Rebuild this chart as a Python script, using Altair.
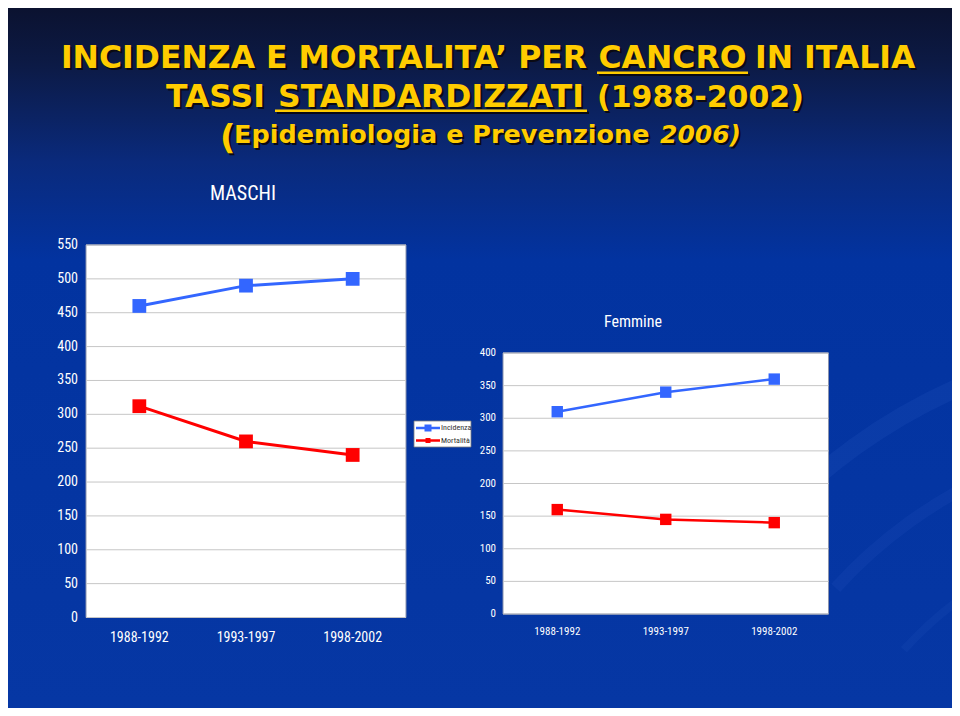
import altair as alt
import pandas as pd

# ---------------- data ----------------
periods = ["1988-1992", "1993-1997", "1998-2002"]
series_names = ["Incidenza", "Mortalità"]
series_colors = ["#3366FF", "#FF0000"]

maschi_incidenza = [460, 490, 500]
maschi_mortalita = [312, 260, 240]
femmine_incidenza = [310, 340, 360]
femmine_mortalita = [160, 145, 140]

maschi_ticks = [0, 50, 100, 150, 200, 250, 300, 350, 400, 450, 500, 550]
femmine_ticks = [0, 50, 100, 150, 200, 250, 300, 350, 400]

# ---------------- style ----------------
W, H = 944, 700
NARROW = "Liberation Sans Narrow, Arial Narrow, Roboto Condensed, DejaVu Sans Condensed, sans-serif"
HEAVY = "DejaVu Sans"
YELLOW = "#FFCC00"
SHADOW = "#0a0a14"

one = pd.DataFrame({"k": [0]})


def long_df(inc, mort):
    rows = []
    for p, a, b in zip(periods, inc, mort):
        rows.append({"period": p, "series": series_names[0], "value": a})
        rows.append({"period": p, "series": series_names[1], "value": b})
    return pd.DataFrame(rows)


color = alt.Color("series:N", scale=alt.Scale(domain=series_names, range=series_colors), legend=None)

# ---------------- background ----------------
bg = alt.Chart(one).mark_rect(
    color=alt.Gradient(
        gradient="linear",
        stops=[
            alt.GradientStop(offset=0.0, color="#0b1230"),
            alt.GradientStop(offset=0.08, color="#0c1a45"),
            alt.GradientStop(offset=0.22, color="#0a2a7c"),
            alt.GradientStop(offset=0.36, color="#0233a0"),
            alt.GradientStop(offset=1.0, color="#0637a4"),
        ],
        x1=0, x2=0, y1=0, y2=1,
    )
).encode(x=alt.value(0), x2=alt.value(W), y=alt.value(0), y2=alt.value(H))

# faint decorative swooshes (lower right of the slide)
swooshes = [
    alt.Chart(one).mark_arc(color="#6f9bff", opacity=op).encode(
        x=alt.value(cx), y=alt.value(cy), radius=alt.value(r1), radius2=alt.value(r2),
        theta=alt.value(t1), theta2=alt.value(t2))
    for cx, cy, r1, r2, t1, t2, op in [
        (1180, 900, 560, 578, 5.45, 6.28, 0.07),
        (1180, 900, 470, 482, 5.45, 6.28, 0.06),
        (1180, 900, 380, 388, 5.45, 6.28, 0.05),
    ]
]


# ---------------- title ----------------
def ytext(txt, x, y, align, size, italic=False):
    style = "italic" if italic else "normal"
    sh = alt.Chart(one).mark_text(
        text=txt, font=HEAVY, fontWeight="bold", fontStyle=style, fontSize=size,
        color=SHADOW, align=align, baseline="alphabetic", dx=2, dy=2,
    ).encode(x=alt.value(x), y=alt.value(y))
    fg = alt.Chart(one).mark_text(
        text=txt, font=HEAVY, fontWeight="bold", fontStyle=style, fontSize=size,
        color=YELLOW, align=align, baseline="alphabetic",
    ).encode(x=alt.value(x), y=alt.value(y))
    return [sh, fg]


def uline(xa, xb, y):
    sh = alt.Chart(one).mark_rect(color=SHADOW).encode(
        x=alt.value(xa + 2), x2=alt.value(xb + 2), y=alt.value(y + 2), y2=alt.value(y + 4.5))
    fg = alt.Chart(one).mark_rect(color=YELLOW).encode(
        x=alt.value(xa), x2=alt.value(xb), y=alt.value(y), y2=alt.value(y + 2.5))
    return [sh, fg]


title_layers = []
title_layers += ytext("INCIDENZA E MORTALITA’ PER", 579, 60, "right", 31.5)
title_layers += ytext("CANCRO", 664.5, 60, "center", 31.5)
title_layers += ytext("IN ITALIA", 747, 60, "left", 31.5)
title_layers += uline(589, 740, 63.5)
title_layers += ytext("TASSI", 257, 99, "right", 31.5)
title_layers += ytext("STANDARDIZZATI", 423, 99, "center", 31.5)
title_layers += ytext("(1988-2002)", 589, 99, "left", 30)
title_layers += uline(267, 579, 101.5)
title_layers += ytext("(", 212, 141, "left", 34)
title_layers += ytext("Epidemiologia e Prevenzione", 226, 135, "left", 25.5)
title_layers += ytext("2006)", 652, 135, "left", 25, italic=True)


# ---------------- panels ----------------
def panel(inc, mort, ticks, ymax, x0, x1, ytop, ybot, label_x, xlab_y,
          tick_fs, xlab_fs, size, sw, title, title_x, title_y, title_fs):
    df = long_df(inc, mort)
    tdf = pd.DataFrame({"v": ticks})
    pdf = pd.DataFrame({"period": periods})
    ys = alt.Scale(domain=[0, ymax], range=[ybot, ytop], nice=False, zero=True)
    xs = alt.Scale(type="point", domain=periods, range=[x0, x1], padding=0.5)

    frame = alt.Chart(one).mark_rect(fill="white", stroke="#8a93ae", strokeWidth=1).encode(
        x=alt.value(x0), x2=alt.value(x1), y=alt.value(ytop), y2=alt.value(ybot))
    grid = alt.Chart(tdf).mark_rule(color="#c6c6c6", strokeWidth=1).encode(
        y=alt.Y("v:Q", scale=ys, axis=None), x=alt.value(x0), x2=alt.value(x1))
    base = alt.Chart(df).encode(
        x=alt.X("period:N", scale=xs, axis=None, sort=periods),
        y=alt.Y("value:Q", scale=ys, axis=None),
        color=color,
    )
    lines = base.mark_line(strokeWidth=sw)
    pts = base.mark_point(shape="square", filled=True, size=size, opacity=1)
    ylab = alt.Chart(tdf).mark_text(
        align="right", baseline="middle", font=NARROW, fontSize=tick_fs, color="white"
    ).encode(y=alt.Y("v:Q", scale=ys, axis=None), x=alt.value(label_x), text="v:Q")
    xlab = alt.Chart(pdf).mark_text(
        align="center", baseline="middle", font=NARROW, fontSize=xlab_fs, color="white"
    ).encode(x=alt.X("period:N", scale=xs, axis=None, sort=periods), y=alt.value(xlab_y), text="period:N")
    ttl = alt.Chart(one).mark_text(
        text=title, font=NARROW, fontSize=title_fs, color="white", align="center", baseline="middle"
    ).encode(x=alt.value(title_x), y=alt.value(title_y))
    return alt.layer(frame, grid, lines, pts, ylab, xlab, ttl)


maschi = panel(maschi_incidenza, maschi_mortalita, maschi_ticks, 550,
               78, 398, 237, 609.5, 70, 630, 14, 14, 190, 3,
               "MASCHI", 235, 186, 20)
femmine = panel(femmine_incidenza, femmine_mortalita, femmine_ticks, 400,
                495, 820.5, 345, 606, 488, 624, 11, 11, 130, 2.5,
                "Femmine", 625, 314, 16)

# ---------------- legend ----------------
leg_layers = [
    alt.Chart(one).mark_rect(fill="white", stroke="#7d7d7d", strokeWidth=0.8).encode(
        x=alt.value(406), x2=alt.value(463), y=alt.value(413), y2=alt.value(439))
]
for name, col, yy, sq in zip(series_names, series_colors, [420, 432.5], [7, 5]):
    leg_layers.append(alt.Chart(one).mark_rule(color=col, strokeWidth=2.5).encode(
        x=alt.value(408), x2=alt.value(432), y=alt.value(yy)))
    leg_layers.append(alt.Chart(one).mark_rect(color=col).encode(
        x=alt.value(420 - sq / 2), x2=alt.value(420 + sq / 2),
        y=alt.value(yy - sq / 2), y2=alt.value(yy + sq / 2)))
    leg_layers.append(alt.Chart(one).mark_text(
        text=name, font=NARROW, fontSize=8, color="#333333", align="left", baseline="middle"
    ).encode(x=alt.value(433), y=alt.value(yy)))

chart = alt.layer(
    bg, *swooshes, *title_layers, maschi, femmine, *leg_layers
).resolve_scale(
    x="independent", y="independent"
).properties(
    width=W, height=H, padding=0, background="#0b1230",
    autosize=alt.AutoSizeParams(type="none"),
).configure_view(stroke=None)

chart.save("out.html", embed_options={"renderer": "svg", "actions": False})
